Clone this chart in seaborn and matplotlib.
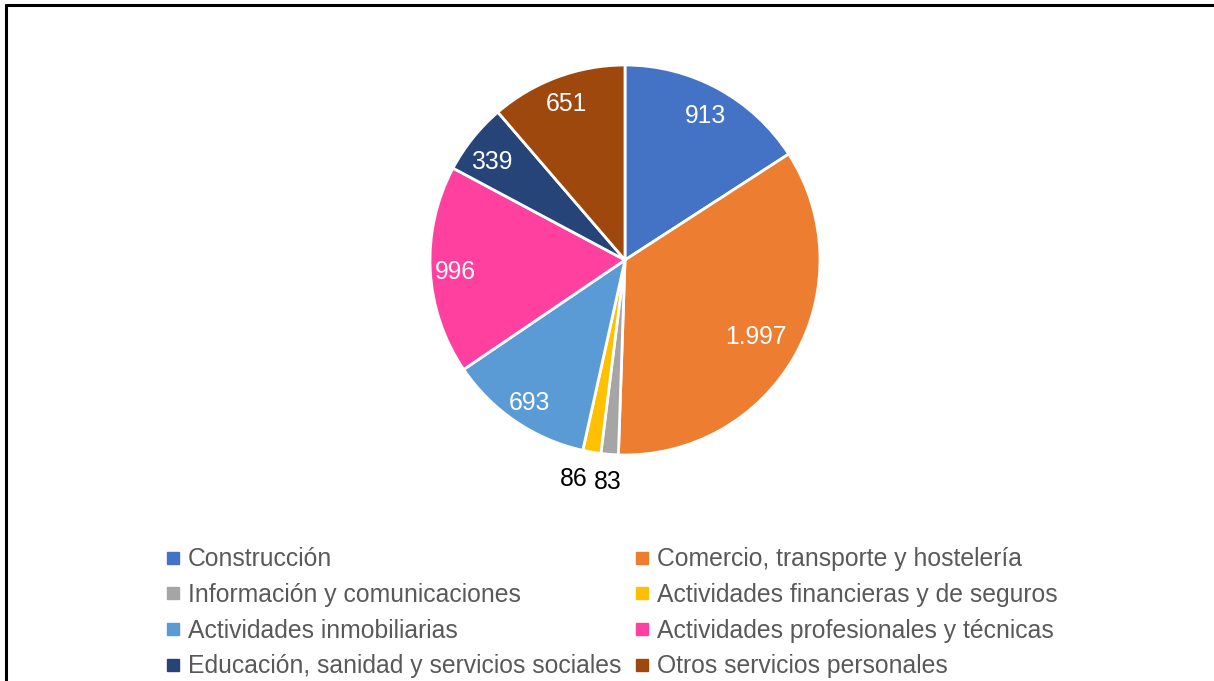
import numpy as np
import matplotlib
matplotlib.use("Agg")
import matplotlib.pyplot as plt
from matplotlib.lines import Line2D
import seaborn as sns

sectors = [
    "Construcción",
    "Comercio, transporte y hostelería",
    "Información y comunicaciones",
    "Actividades financieras y de seguros",
    "Actividades inmobiliarias",
    "Actividades profesionales y técnicas",
    "Educación, sanidad y servicios sociales",
    "Otros servicios personales",
]
values = [913, 1997, 83, 86, 693, 996, 339, 651]
colors = ["#4472C4", "#ED7D31", "#A5A5A5", "#FFC000",
          "#5B9BD5", "#FF409F", "#264478", "#9E480E"]

# label placement (radius as fraction of R, angle nudge in degrees)
label_r = [0.86, 0.77, 1.125, 1.14, 0.87, 0.87, 0.86, 0.87]
label_nudge = [0, 0, 0, -3.5, 0, 0, 1.5, 0]

sns.set_theme(style="white")
plt.rcParams["font.family"] = ["Liberation Sans", "DejaVu Sans"]

W, H = 1214, 681
fig = plt.figure(figsize=(W / 100, H / 100), dpi=100)

# pie axes: centre (625, 260) px, radius 195 px
R = 195
cx, cy = 625, 260
ax = fig.add_axes([(cx - R) / W, (H - cy - R) / H, 2 * R / W, 2 * R / H])
wedges, _ = ax.pie(values, colors=colors, startangle=90, counterclock=False,
                   wedgeprops=dict(edgecolor="white", linewidth=2.0))
ax.set_xlim(-1, 1)
ax.set_ylim(-1, 1)
ax.set_aspect("equal")
ax.axis("off")

fsize = 17.8
for i, (w, v) in enumerate(zip(wedges, values)):
    mid = np.deg2rad((w.theta1 + w.theta2) / 2 + label_nudge[i])
    label = f"{v:,}".replace(",", ".")
    color = "black" if label_r[i] > 1 else "white"
    ax.text(label_r[i] * np.cos(mid), label_r[i] * np.sin(mid) - 0.015, label,
            ha="center", va="center", fontsize=fsize, color=color)

# legend, filled row by row like the original
order = [0, 2, 4, 6, 1, 3, 5, 7]
handles = [Line2D([], [], marker="s", linestyle="none", markersize=8,
                  markerfacecolor=colors[i], markeredgecolor=colors[i])
           for i in order]
labels = [sectors[i] for i in order]
leg = fig.legend(handles, labels, ncol=2, loc="upper left",
                 bbox_to_anchor=(153 / W, 1 - 535 / H), frameon=False,
                 fontsize=fsize, handlelength=0.6, handletextpad=0.3,
                 columnspacing=0.56, labelspacing=0.47, borderpad=0)
for t in leg.get_texts():
    t.set_color("#595959")

# chart frame (left and top edges visible)
fig.add_artist(Line2D([6 / W, 6 / W], [0, 1 - 5 / H], color="black",
                      linewidth=2.2, transform=fig.transFigure))
fig.add_artist(Line2D([6 / W, 1], [1 - 5 / H, 1 - 5 / H], color="black",
                      linewidth=2.2, transform=fig.transFigure))

fig.savefig("out.png", dpi=100, facecolor="white")
